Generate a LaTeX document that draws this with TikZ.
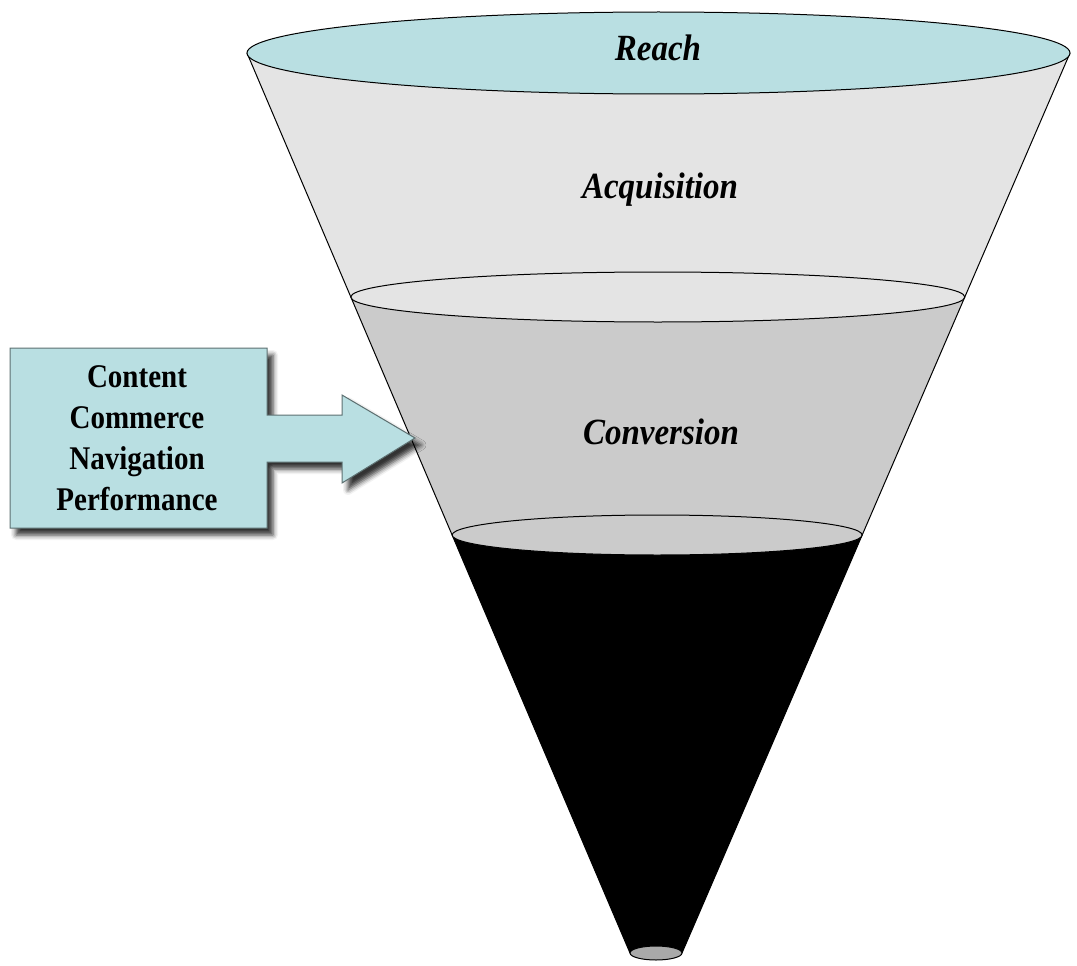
\documentclass[tikz,border=0pt]{standalone}
\usepackage{fontspec}
\setmainfont{Liberation Serif}
\usetikzlibrary{shadows.blur}
\definecolor{cyanfill}{HTML}{B9DFE2}
\definecolor{bandA}{HTML}{E4E4E4}
\definecolor{bandB}{HTML}{CBCBCB}
\definecolor{tipgray}{HTML}{A9A9A9}
\begin{document}
\begin{tikzpicture}[x=1pt,y=-1pt,
  outline/.style={draw=black, line width=1pt},
  stagelabel/.style={font=\fontsize{33}{36}\selectfont\bfseries\itshape, yscale=1.12, inner sep=0pt},
  boxtext/.style={font=\fontsize{29}{36}\selectfont\bfseries, align=center, yscale=1.14, inner sep=0pt},
  callout/.style={fill=cyanfill, draw=cyanfill!50!black, line width=1pt,
    blur shadow={shadow xshift=6pt, shadow yshift=-7pt, shadow blur radius=5pt, shadow opacity=80}}
]
\useasboundingbox (0,0) rectangle (1077,966);
% key points of the funnel
\coordinate (TL) at (247,53);
\coordinate (TR) at (1070,53);
\coordinate (ML) at (350.8,297);
\coordinate (MR) at (964.8,297);
\coordinate (LL) at (452.1,535);
\coordinate (LR) at (862.2,535);
\coordinate (BL) at (630,953);
\coordinate (BR) at (682,953);
% acquisition band
\fill[bandA] (TL) -- (ML) arc[start angle=180, end angle=0, x radius=307, y radius=25] -- (TR) -- cycle;
% conversion band
\fill[bandB] (ML) -- (LL) arc[start angle=180, end angle=0, x radius=205, y radius=20] -- (MR)
  arc[start angle=0, end angle=180, x radius=307, y radius=25] -- cycle;
% black bottom section
\fill[black] (LL) -- (BL) arc[start angle=180, end angle=0, x radius=26, y radius=7] -- (LR) -- cycle;
% side lines
\draw[line width=1pt] (TL) -- (BL);
\draw[line width=1pt] (TR) -- (BR);
% ellipses
\draw[outline, fill=bandA] (657.8,297) ellipse[x radius=307, y radius=25];
\draw[outline, fill=bandB] (657.15,535) ellipse[x radius=205, y radius=20];
\draw[outline, fill=cyanfill] (658.5,53) ellipse[x radius=411.5, y radius=41];
\draw[draw=black, line width=1pt, fill=tipgray] (656,953) ellipse[x radius=26, y radius=7];
% stage labels
\node[stagelabel] (reach) at (658,48) {Reach};
\node[stagelabel] (acq) at (660,190) {Acquisition};
\node[stagelabel] (conv) at (661,432) {Conversion};
% callout box with arrow
\coordinate (tip) at (415,438);
\draw[callout] (10,348) -- (267,348) -- (267,415) -- (342,415) -- (342,395) -- (tip)
  -- (342,483) -- (342,462) -- (267,462) -- (267,528) -- (10,528) -- cycle;
\node[boxtext] (factors) at (137,438) {Content\\Commerce\\Navigation\\Performance};
\end{tikzpicture}
\end{document}
